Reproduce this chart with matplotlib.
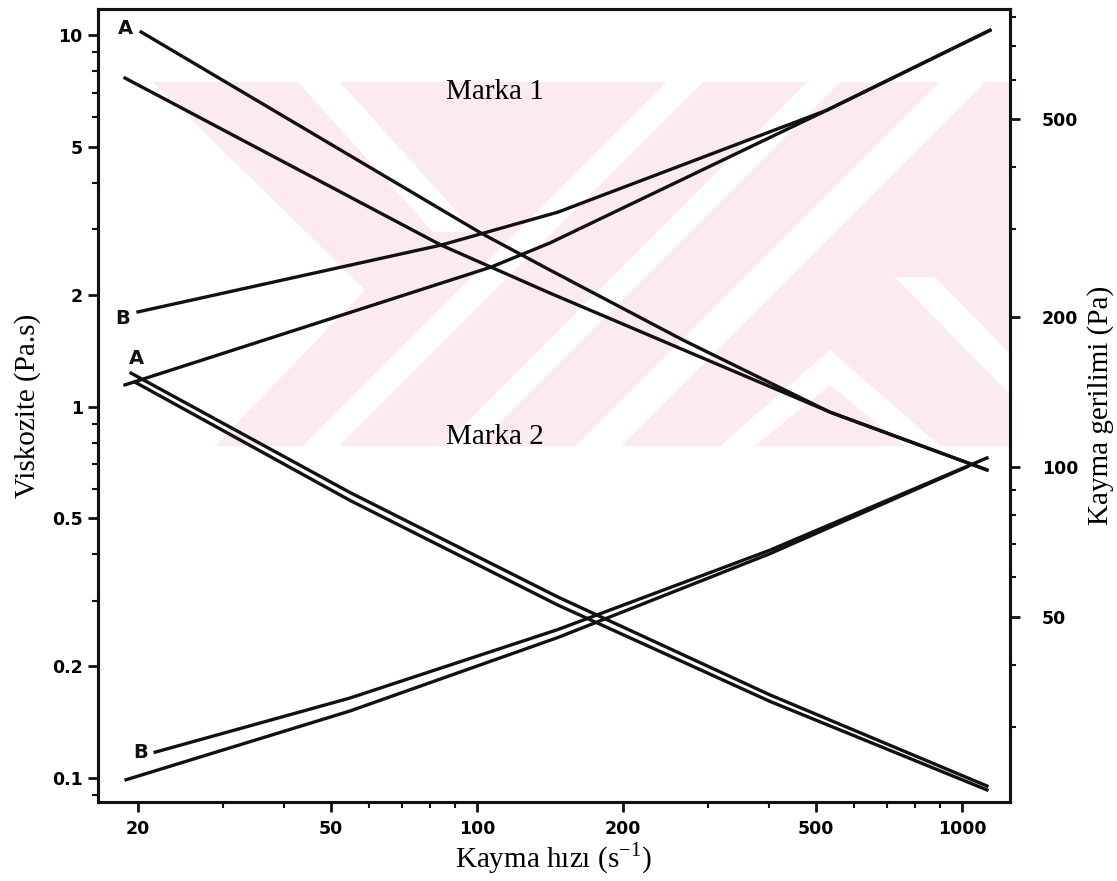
import numpy as np
import matplotlib
matplotlib.use('Agg')
import matplotlib.pyplot as plt
from matplotlib.patches import Polygon
from matplotlib.font_manager import FontProperties

# shear rate (1/s) and readings for each curve
m1_visc_a_rate = [20.3, 101.9, 141.4, 265.9, 534, 1126]
m1_visc_a = [10.19, 2.93, 2.33, 1.51, 0.966, 0.675]
m1_visc_b_rate = [18.8, 84.3, 141.4, 534.4, 1126]
m1_visc_b = [7.66, 2.72, 2.02, 0.966, 0.675]

m1_tau_b_rate = [20.0, 84.3, 146.9, 526.8, 1142]
m1_tau_b = [204.8, 279, 325, 521, 754]
m1_tau_a_rate = [18.8, 106.9, 141.4, 526.8, 1142]
m1_tau_a = [146.1, 252, 281.8, 521, 754]

m2_visc_a_rate = [19.35, 54.7, 146.9, 401.9, 1126]
m2_visc_a = [1.23, 0.587, 0.307, 0.1674, 0.0952]
m2_visc_b_rate = [19.7, 54.7, 146.9, 401.9, 1126]
m2_visc_b = [1.164, 0.559, 0.292, 0.1608, 0.0929]

m2_tau_b_rate = [21.7, 54.7, 146.9, 401.9, 1126]
m2_tau_b = [26.7, 34.3, 47.1, 68.0, 104.2]
m2_tau_a_rate = [18.9, 54.7, 146.9, 401.9, 1024]
m2_tau_a = [23.5, 32.3, 45.4, 66.9, 100]

x_ticks = [20, 50, 100, 200, 500, 1000]
left_ticks = [0.1, 0.2, 0.5, 1, 2, 5, 10]
right_ticks = [50, 100, 200, 500]

plt.rcParams['mathtext.fontset'] = 'stix'
serif = 'Liberation Serif'
tickfont = FontProperties(family='DejaVu Sans', weight='bold', size=12.5)

W, H = 1117, 881
fig = plt.figure(figsize=(W / 100, H / 100), dpi=100)

# faint watermark, drawn in pixel coords on a background axes
bg = fig.add_axes([0, 0, 1, 1], zorder=-1)
bg.set_xlim(0, W)
bg.set_ylim(H, 0)
bg.axis('off')
pink = '#fcebee'
bg.add_patch(Polygon([(153, 82), (1010, 82), (1010, 446), (153, 446)],
                     facecolor=pink, edgecolor='none'))

def stripe(x0, x1, y0, y1, dx):
    return [(x0, y0), (x1, y0), (x1 + dx, y1), (x0 + dx, y1)]

white_parts = [
    [(153, 82), (365, 290), (215, 446), (153, 446)],
    stripe(298, 340, 82, 232, 135),
    stripe(667, 703, 82, 446, -364),
    stripe(807, 840, 82, 446, -364),
    stripe(940, 985, 82, 446, -364),
    [(830, 350), (940, 446), (905, 446), (830, 385), (755, 446), (720, 446)],
    stripe(895, 935, 277, 400, 120),
]
for p in white_parts:
    bg.add_patch(Polygon(p, facecolor='white', edgecolor='none'))

ax = fig.add_axes([98 / W, 1 - 802 / H, 912 / W, 793 / H])
ax.patch.set_alpha(0)
ax2 = ax.twinx()

ax.set_xscale('log')
ax.set_yscale('log')
ax2.set_yscale('log')
ax.set_xlim(16.54, 1256)
ax.set_ylim(0.0862, 11.75)
ax2.set_ylim(21.2, 832)

lw = 2.4
c = '#111111'
ax.plot(m1_visc_a_rate, m1_visc_a, color=c, lw=lw)
ax.plot(m1_visc_b_rate, m1_visc_b, color=c, lw=lw)
ax.plot(m2_visc_a_rate, m2_visc_a, color=c, lw=lw)
ax.plot(m2_visc_b_rate, m2_visc_b, color=c, lw=lw)
ax2.plot(m1_tau_b_rate, m1_tau_b, color=c, lw=lw)
ax2.plot(m1_tau_a_rate, m1_tau_a, color=c, lw=lw)
ax2.plot(m2_tau_b_rate, m2_tau_b, color=c, lw=lw)
ax2.plot(m2_tau_a_rate, m2_tau_a, color=c, lw=lw)

ax.set_xticks(x_ticks, [str(v) for v in x_ticks])
ax.set_yticks(left_ticks, [f'{v:g}' for v in left_ticks])
ax2.set_yticks(right_ticks, [str(v) for v in right_ticks])
for a in (ax, ax2):
    a.tick_params(which='major', length=7, width=2, color=c)
    a.tick_params(which='minor', length=4, width=1.5, color=c)
    for lab in a.get_xticklabels() + a.get_yticklabels():
        lab.set_fontproperties(tickfont)
    for sp in a.spines.values():
        sp.set_linewidth(2.2)
        sp.set_color(c)
ax.tick_params(axis='y', pad=4)
ax.tick_params(axis='x', pad=6)
ax2.tick_params(axis='y', pad=16)

ax.set_xlabel('Kayma hızı (s$^{\\mathregular{-1}}$)', family=serif, size=21, labelpad=2)
ax.set_ylabel('Viskozite (Pa.s)', family=serif, size=21, labelpad=8)
ax2.set_ylabel('Kayma gerilimi (Pa)', family=serif, size=21, labelpad=6)

ax.text(0.435, 0.895, 'Marka 1', transform=ax.transAxes, family=serif, size=21,
        ha='center', va='center')
ax.text(0.435, 0.46, 'Marka 2', transform=ax.transAxes, family=serif, size=21,
        ha='center', va='center')

for lab, (px, py) in [('A', (125, 28)), ('B', (123, 318)), ('A', (136, 358)), ('B', (141, 753))]:
    ax.text((px - 98) / 912, (802 - py) / 793, lab, transform=ax.transAxes,
            fontsize=14, weight='bold', ha='center', va='center', color=c)

fig.savefig('out.png', dpi=100)
